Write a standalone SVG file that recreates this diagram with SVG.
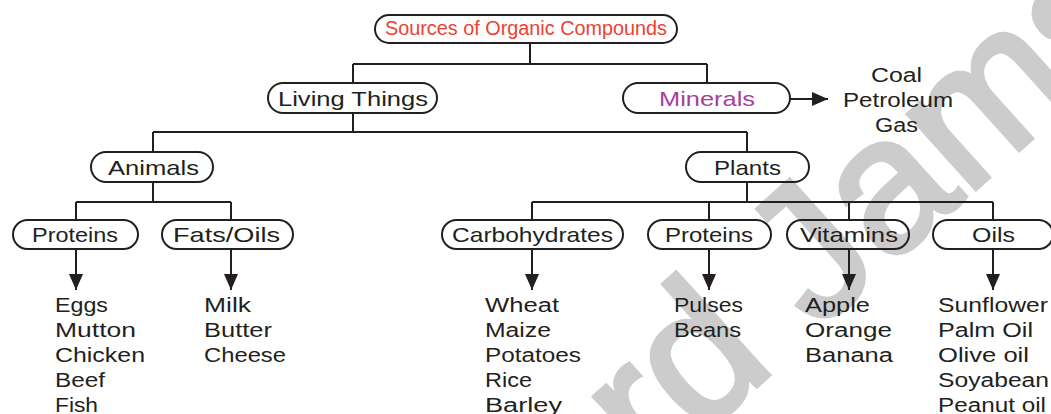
<svg xmlns="http://www.w3.org/2000/svg" width="1051" height="414" viewBox="0 0 1051 414">
  <style>
    .box { fill: none; stroke: #231f20; stroke-width: 2; }
    .ln { fill: none; stroke: #231f20; stroke-width: 2; }
    .t { font-family: "Liberation Sans", Arial, sans-serif; font-size: 21px; fill: #231f20; }
    .li { font-family: "Liberation Sans", Arial, sans-serif; font-size: 20px; fill: #231f20; }
    .root { fill: #ee4130; font-size: 20px; }
    .min { fill: #a5409f; }
    .wm { font-family: "Liberation Sans", Arial, sans-serif; font-size: 190px; fill: #cccccc; stroke: #cccccc; stroke-width: 5; }
  </style>
  <defs>
    <marker id="ah" markerUnits="userSpaceOnUse" markerWidth="17" markerHeight="15" refX="16" refY="7" orient="auto">
      <path d="M0,0 L16,7 L0,14 Z" fill="#231f20"/>
    </marker>
  </defs>
  <rect width="1051" height="414" fill="#ffffff"/>
  <text class="wm" transform="translate(401,706) rotate(-42)">Board Jamshoro</text>

  <g id="connectors">
    <path class="ln" d="M530,43 V64 M353,64 H707 M353,64 V83 M707,64 V83"/>
    <path class="ln" d="M790,99 H828" marker-end="url(#ah)"/>
    <path class="ln" d="M353,113 V132 M153,132 H747 M153,132 V152 M747,132 V152"/>
    <path class="ln" d="M153,182 V202 M76,202 H231 M76,202 V220 M231,202 V220"/>
    <path class="ln" d="M747,182 V202 M532,202 H993 M532,202 V220 M709,202 V220 M849,202 V220 M993,202 V220"/>
    <path class="ln" d="M76,249 V290" marker-end="url(#ah)"/>
    <path class="ln" d="M231,249 V290" marker-end="url(#ah)"/>
    <path class="ln" d="M532,249 V290" marker-end="url(#ah)"/>
    <path class="ln" d="M709,249 V290" marker-end="url(#ah)"/>
    <path class="ln" d="M849,249 V290" marker-end="url(#ah)"/>
    <path class="ln" d="M993,249 V290" marker-end="url(#ah)"/>
  </g>

  <g id="root">
    <rect class="box" x="375" y="15" width="302" height="28" rx="14"/>
    <text class="t root" x="385" y="35" textLength="282" lengthAdjust="spacingAndGlyphs">Sources of Organic Compounds</text>
  </g>
  <g id="living-things">
    <rect class="box" x="268" y="83" width="169" height="30" rx="15"/>
    <text class="t" x="278" y="105.5" textLength="150" lengthAdjust="spacingAndGlyphs">Living Things</text>
  </g>
  <g id="minerals">
    <rect class="box" x="623" y="83" width="167" height="30" rx="15"/>
    <text class="t min" x="659" y="105.5" textLength="96" lengthAdjust="spacingAndGlyphs">Minerals</text>
  </g>
  <g id="mineral-list">
    <text class="li" x="871" y="82" textLength="51" lengthAdjust="spacingAndGlyphs">Coal</text>
    <text class="li" x="843" y="107" textLength="110" lengthAdjust="spacingAndGlyphs">Petroleum</text>
    <text class="li" x="875" y="132" textLength="43" lengthAdjust="spacingAndGlyphs">Gas</text>
  </g>
  <g id="animals">
    <rect class="box" x="91" y="152" width="122" height="30" rx="15"/>
    <text class="t" x="108" y="174.5" textLength="91" lengthAdjust="spacingAndGlyphs">Animals</text>
  </g>
  <g id="plants">
    <rect class="box" x="686" y="152" width="123" height="30" rx="15"/>
    <text class="t" x="714" y="174.5" textLength="67" lengthAdjust="spacingAndGlyphs">Plants</text>
  </g>
  <g id="animal-proteins">
    <rect class="box" x="13" y="220" width="125" height="29" rx="14.5"/>
    <text class="t" x="32" y="242" textLength="86" lengthAdjust="spacingAndGlyphs">Proteins</text>
  </g>
  <g id="fats-oils">
    <rect class="box" x="162" y="220" width="131" height="29" rx="14.5"/>
    <text class="t" x="173" y="242" textLength="107" lengthAdjust="spacingAndGlyphs">Fats/Oils</text>
  </g>
  <g id="carbohydrates">
    <rect class="box" x="442" y="220" width="181" height="29" rx="14.5"/>
    <text class="t" x="452" y="242" textLength="161" lengthAdjust="spacingAndGlyphs">Carbohydrates</text>
  </g>
  <g id="plant-proteins">
    <rect class="box" x="648" y="220" width="123" height="29" rx="14.5"/>
    <text class="t" x="665" y="242" textLength="88" lengthAdjust="spacingAndGlyphs">Proteins</text>
  </g>
  <g id="vitamins">
    <rect class="box" x="787" y="220" width="122" height="29" rx="14.5"/>
    <text class="t" x="800" y="242" textLength="98" lengthAdjust="spacingAndGlyphs">Vitamins</text>
  </g>
  <g id="oils">
    <rect class="box" x="933" y="220" width="120" height="29" rx="14.5"/>
    <text class="t" x="972" y="242" textLength="43" lengthAdjust="spacingAndGlyphs">Oils</text>
  </g>

  <g id="animal-protein-list">
    <text class="li" x="55" y="312" textLength="53" lengthAdjust="spacingAndGlyphs">Eggs</text>
    <text class="li" x="55" y="337" textLength="81" lengthAdjust="spacingAndGlyphs">Mutton</text>
    <text class="li" x="55" y="362" textLength="90" lengthAdjust="spacingAndGlyphs">Chicken</text>
    <text class="li" x="55" y="387" textLength="50" lengthAdjust="spacingAndGlyphs">Beef</text>
    <text class="li" x="55" y="412" textLength="43" lengthAdjust="spacingAndGlyphs">Fish</text>
  </g>
  <g id="fats-list">
    <text class="li" x="204" y="312" textLength="47" lengthAdjust="spacingAndGlyphs">Milk</text>
    <text class="li" x="204" y="337" textLength="68" lengthAdjust="spacingAndGlyphs">Butter</text>
    <text class="li" x="204" y="362" textLength="82" lengthAdjust="spacingAndGlyphs">Cheese</text>
  </g>
  <g id="carbohydrate-list">
    <text class="li" x="485" y="312" textLength="74" lengthAdjust="spacingAndGlyphs">Wheat</text>
    <text class="li" x="485" y="337" textLength="66" lengthAdjust="spacingAndGlyphs">Maize</text>
    <text class="li" x="485" y="362" textLength="96" lengthAdjust="spacingAndGlyphs">Potatoes</text>
    <text class="li" x="485" y="387" textLength="47" lengthAdjust="spacingAndGlyphs">Rice</text>
    <text class="li" x="485" y="412" textLength="77" lengthAdjust="spacingAndGlyphs">Barley</text>
  </g>
  <g id="plant-protein-list">
    <text class="li" x="674" y="312" textLength="69" lengthAdjust="spacingAndGlyphs">Pulses</text>
    <text class="li" x="674" y="337" textLength="67" lengthAdjust="spacingAndGlyphs">Beans</text>
  </g>
  <g id="vitamin-list">
    <text class="li" x="805" y="312" textLength="65" lengthAdjust="spacingAndGlyphs">Apple</text>
    <text class="li" x="805" y="337" textLength="87" lengthAdjust="spacingAndGlyphs">Orange</text>
    <text class="li" x="805" y="362" textLength="88" lengthAdjust="spacingAndGlyphs">Banana</text>
  </g>
  <g id="oil-list">
    <text class="li" x="938" y="312" textLength="110" lengthAdjust="spacingAndGlyphs">Sunflower</text>
    <text class="li" x="938" y="337" textLength="95" lengthAdjust="spacingAndGlyphs">Palm Oil</text>
    <text class="li" x="938" y="362" textLength="91" lengthAdjust="spacingAndGlyphs">Olive oil</text>
    <text class="li" x="938" y="387" textLength="111" lengthAdjust="spacingAndGlyphs">Soyabean</text>
    <text class="li" x="938" y="412" textLength="108" lengthAdjust="spacingAndGlyphs">Peanut oil</text>
  </g>
</svg>
